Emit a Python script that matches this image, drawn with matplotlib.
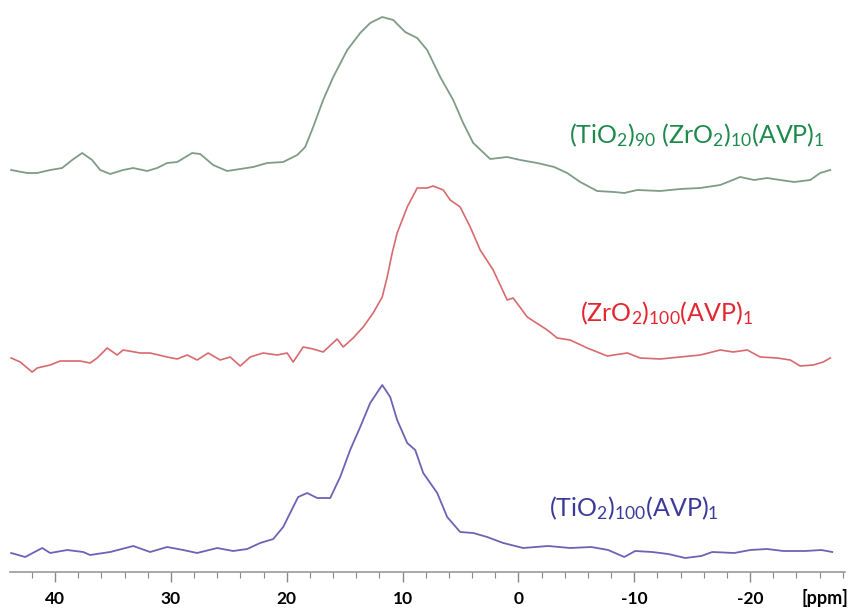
import numpy as np
import matplotlib
matplotlib.use('Agg')
import matplotlib.pyplot as plt
from matplotlib.ticker import MultipleLocator

plt.rcParams['font.family'] = ['Lato', 'DejaVu Sans']
plt.rcParams['mathtext.fontset'] = 'custom'
plt.rcParams['mathtext.rm'] = 'Lato'
plt.rcParams['mathtext.it'] = 'Lato'

# chemical shift (ppm) and intensity (arb. units)
ppm_mix = [43.8, 42.42, 41.55, 40.43, 39.4, 38.53, 37.67, 36.81, 36.11, 35.25, 34.13, 33.26,
           32.06, 31.19, 30.33, 29.46, 28.17, 27.48, 26.36, 25.15, 24.02, 22.9, 21.69, 20.31,
           19.1, 18.41, 17.72, 16.86, 15.99, 14.78, 13.66, 12.8, 11.76, 10.81, 9.78, 8.74, 7.88,
           6.75, 5.63, 4.77, 3.9, 2.44, 0.97, -0.16, -1.62, -3.09, -4.21, -5.34, -6.8, -8.27,
           -9.14, -10.26, -12.25, -13.97, -15.7, -17.43, -19.15, -20.36, -21.48, -22.61,
           -23.82, -25.2, -26.06, -26.93]
int_mix = [0, -3, -3, 0, 2, 10, 17, 10, 0, -4, 0, 2, -1, 2, 7, 8, 17, 16, 5, -1, 1, 3, 7, 8,
           15, 23, 43, 70, 93, 120, 137, 147, 153, 150, 138, 132, 120, 93, 70, 47, 27, 11, 13,
           10, 7, 3, -3, -12, -21, -22, -23, -20, -21, -19, -18, -15, -7, -10, -8, -10, -12,
           -10, -3, 0]

ppm_zr = [43.8, 43.02, 41.99, 41.55, 40.43, 39.57, 37.84, 36.98, 36.37, 35.51, 34.65, 34.13,
          32.66, 31.8, 30.33, 29.46, 28.6, 27.74, 26.79, 25.75, 24.89, 24.02, 23.16, 22.04,
          20.83, 19.97, 19.45, 18.58, 17.72, 16.86, 15.65, 15.13, 14.27, 13.4, 12.54, 11.76,
          11.33, 10.9, 10.47, 9.6, 8.74, 7.88, 7.36, 6.49, 5.89, 5.03, 4.16, 3.3, 2.18, 0.97,
          0.45, -0.76, -2.49, -3.35, -4.47, -5.94, -7.67, -9.4, -10.52, -12.25, -13.97,
          -15.7, -17.43, -18.55, -19.76, -20.88, -22.35, -23.47, -24.33, -25.46, -26.32,
          -26.93]
int_zr = [0, -4, -14, -10, -7, -3, -3, -5, 0, 10, 3, 8, 5, 5, 1, -1, 3, -2, 5, -2, 1, -8, 1,
          5, 3, 5, -4, 11, 9, 6, 19, 11, 20, 31, 45, 61, 81, 105, 125, 151, 170, 170, 172,
          168, 158, 151, 131, 108, 88, 58, 60, 41, 28, 20, 18, 10, 2, 5, 0, -1, 1, 3, 8, 6,
          8, 1, 0, -2, -8, -7, -4, 0]

ppm_ti = [43.8, 42.59, 41.12, 40.43, 38.96, 37.58, 36.98, 35.25, 33.26, 31.8, 30.33, 28.95,
          27.74, 26.01, 24.63, 23.42, 22.3, 21.17, 20.31, 19.71, 19.02, 18.24, 17.38, 16.25,
          15.39, 14.53, 13.66, 12.8, 11.76, 11.07, 10.47, 9.6, 8.91, 8.22, 7.01, 6.15, 5.03,
          3.9, 2.7, 1.31, -0.41, -2.57, -4.47, -6.29, -7.75, -9.14, -10.08, -11.55, -12.94,
          -14.4, -15.79, -16.74, -18.64, -20.02, -21.48, -22.87, -24.77, -26.15, -27.1]
int_ti = [-2, -6, 3, -2, 1, -1, -4, -1, 5, -1, 4, 1, -2, 3, 0, 2, 8, 12, 24, 38, 54, 58, 53,
          53, 74, 101, 124, 148, 166, 154, 131, 108, 101, 78, 58, 34, 19, 18, 14, 8, 3, 5, 3,
          4, 1, -6, 0, -1, -3, -7, -5, -1, -2, 1, 2, 0, 0, 1, -1]

tick_vals = [40, 30, 20, 10, 0, -10, -20]

fig = plt.figure(figsize=(8.54, 6.08), dpi=100)
ax = fig.add_axes([10 / 854, 36 / 608, 835 / 854, 572 / 608])

ax.plot(ppm_mix, np.array(int_mix) + 402, color='#7f9c86', lw=1.3)
ax.plot(ppm_zr, np.array(int_zr) + 214, color='#d86a6e', lw=1.2)
ax.plot(ppm_ti, np.array(int_ti) + 21, color='#6c63b4', lw=1.3)

ax.text(-4.4, 437, r'(TiO$_2$)$_{90}$ (ZrO$_2$)$_{10}$(AVP)$_1$', color='#1d8a4c',
        fontsize=18, ha='left', va='center')
ax.text(-5.3, 259, r'(ZrO$_2$)$_{100}$(AVP)$_1$', color='#e3262f',
        fontsize=18, ha='left', va='center')
ax.text(-2.6, 64, r'(TiO$_2$)$_{100}$(AVP)$_1$', color='#3b3a9c',
        fontsize=18, ha='left', va='center')

ax.set_xlim(43.9, -28.2)
ax.set_ylim(0, 572)
ax.set_xticks(tick_vals)
ax.set_xticklabels([str(v) for v in tick_vals], fontsize=12.5, fontweight='bold')
ax.xaxis.set_minor_locator(MultipleLocator(2))
ax.tick_params(axis='x', which='major', length=7, width=1, color='#888888', pad=7)
ax.tick_params(axis='x', which='minor', length=4, width=0.8, color='#888888')
ax.set_yticks([])
for s in ['top', 'left', 'right']:
    ax.spines[s].set_visible(False)
ax.spines['bottom'].set_color('#999999')
ax.spines['bottom'].set_linewidth(1.2)

fig.text(825 / 854, 1 - 598 / 608, '[ppm]', fontsize=13, fontweight='bold',
         ha='center', va='center')

fig.savefig('out.png', dpi=100)
